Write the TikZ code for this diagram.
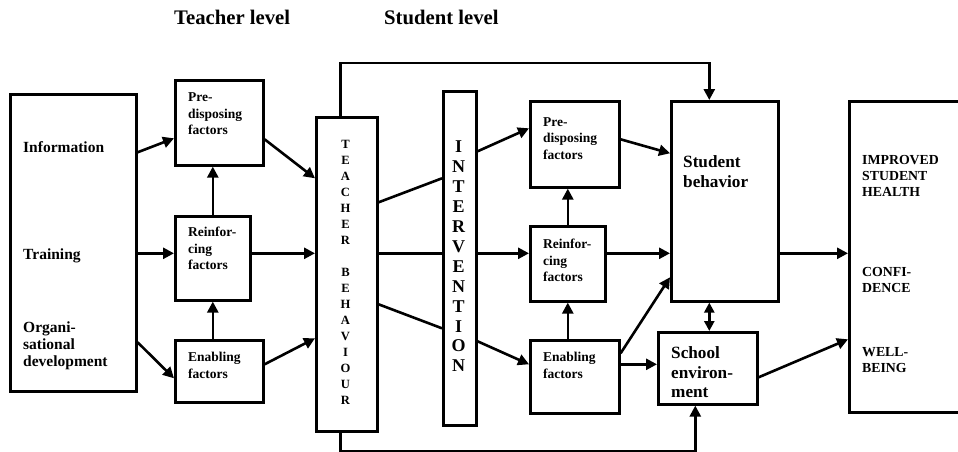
\documentclass[tikz,border=0pt]{standalone}
\usepackage{fontspec}
\setmainfont{Liberation Serif}
\usetikzlibrary{arrows.meta}
\begin{document}
\begin{tikzpicture}[x=1pt,y=-1pt,
  box/.style={draw,line width=2.6pt,inner sep=0pt,anchor=north west},
  arr/.style={line width=2.6pt,-{Triangle[length=11pt,width=11pt]}},
  darr/.style={line width=2.6pt,{Triangle[length=10pt,width=10pt]}-{Triangle[length=10pt,width=10pt]}},
  ln/.style={line width=2.6pt},
  lbl/.style={anchor=north west,inner sep=0pt,align=left,font=\fontsize{15.5}{17}\selectfont\bfseries},
  sml/.style={anchor=north west,inner sep=0pt,align=left,font=\fontsize{13.5}{16.5}\selectfont\bfseries},
  big/.style={anchor=north west,inner sep=0pt,align=left,font=\fontsize{17.2}{19.3}\selectfont\bfseries},
  res/.style={anchor=north west,inner sep=0pt,align=left,font=\fontsize{13.8}{16}\selectfont\bfseries},
  ttl/.style={anchor=north west,inner sep=0pt,font=\fontsize{20.7}{24}\selectfont\bfseries}
]
\useasboundingbox (0,0) rectangle (958,451);
\clip (0,0) rectangle (958,451);

% titles
\node[ttl] (t1) at (174,9.7) {Teacher level};
\node[ttl] (t2) at (384,9.7) {Student level};

% boxes
\node[box,minimum width=126,minimum height=297] (L) at (9,93) {};
\node[box,minimum width=88,minimum height=85] (TPre) at (174,79) {};
\node[box,minimum width=75,minimum height=84] (TRe) at (174,215) {};
\node[box,minimum width=88,minimum height=62] (TEn) at (174,339) {};
\node[box,minimum width=61,minimum height=314] (TB) at (315,116) {};
\node[box,minimum width=33,minimum height=334] (IV) at (442,90) {};
\node[box,minimum width=89,minimum height=86] (SPre) at (529,100) {};
\node[box,minimum width=75,minimum height=75] (SRe) at (529,225) {};
\node[box,minimum width=89,minimum height=73] (SEn) at (529,339) {};
\node[box,minimum width=107,minimum height=200] (SB) at (670,100) {};
\node[box,minimum width=99,minimum height=72] (SE) at (657,331) {};
\node[box,minimum width=130,minimum height=311] (R) at (848,100) {};

% texts
\node[lbl] (info) at (23,141.4) {Information};
\node[lbl] (train) at (23,248.4) {Training};
\node[lbl] (org) at (23,321.4) {Organi-\\sational\\development};
\node[sml] (tpret) at (188,92.6) {Pre-\\disposing\\factors};
\node[sml] (tret) at (188,227) {Reinfor-\\cing\\factors};
\node[sml] (tent) at (188,352) {Enabling\\factors};
\node[sml] (spret) at (543,117) {Pre-\\disposing\\factors};
\node[sml] (sret) at (543,239) {Reinfor-\\cing\\factors};
\node[sml] (sent) at (543,352) {Enabling\\factors};
\node[big] (sbt) at (683,155.8) {Student\\behavior};
\node[big] (set) at (671,346.8) {School\\environ-\\ment};
\node[res] (r1) at (862,155) {IMPROVED\\STUDENT\\HEALTH};
\node[res] (r2) at (862,267) {CONFI-\\DENCE};
\node[res] (r3) at (862,347) {WELL-\\BEING};
\node[inner sep=0pt,align=center,font=\fontsize{12.6}{16}\selectfont\bfseries] (tbt) at (345.5,272.5)
  {T\\E\\A\\C\\H\\E\\R\\[16pt]B\\E\\H\\A\\V\\I\\O\\U\\R};
\node[inner sep=0pt,align=center,font=\fontsize{18}{19.9}\selectfont\bfseries] (ivt) at (458.5,256.5)
  {I\\N\\T\\E\\R\\V\\E\\N\\T\\I\\O\\N};

% teacher level arrows
\draw[arr] ([yshift=90.5pt]L.east) -- ([yshift=-15.5pt]TPre.west);
\draw[arr] ([yshift=-10.5pt]L.east) -- ([yshift=5pt]TRe.west);
\draw[arr] ([yshift=-99.5pt]L.east) -- ([yshift=-7pt]TEn.west);
\draw[arr] (TRe.north) -- (TRe.north |- TPre.south);
\draw[arr] (TRe.south |- TEn.north) -- (TRe.south);
\draw[arr] ([yshift=-16.5pt]TPre.east) -- ([yshift=96pt]TB.west);
\draw[arr] ([yshift=5pt]TRe.east) -- ([yshift=21pt]TB.west);
\draw[arr] ([yshift=7pt]TEn.east) -- ([yshift=-64pt]TB.west);

% teacher behaviour to intervention
\draw[ln] ([yshift=72pt]TB.east) -- ([yshift=80pt]IV.west);
\draw[ln] ([yshift=21pt]TB.east) -- ([yshift=5pt]IV.west);
\draw[ln] ([yshift=-30pt]TB.east) -- ([yshift=-70pt]IV.west);

% intervention to student factors
\draw[arr] ([yshift=107pt]IV.east) -- ([yshift=16pt]SPre.west);
\draw[arr] ([yshift=5pt]IV.east) -- ([yshift=10.5pt]SRe.west);
\draw[arr] ([yshift=-83pt]IV.east) -- ([yshift=12.5pt]SEn.west);
\draw[arr] (SRe.north) -- (SRe.north |- SPre.south);
\draw[arr] (SRe.south |- SEn.north) -- (SRe.south);

% student factors to behaviour / environment
\draw[arr] ([yshift=5pt]SPre.east) -- ([yshift=48pt]SB.west);
\draw[arr] ([yshift=10.5pt]SRe.east) -- ([yshift=-52pt]SB.west);
\draw[arr] ([yshift=23.5pt]SEn.east) -- ([yshift=-76pt]SB.west);
\draw[arr] ([yshift=12.5pt]SEn.east) -- ([yshift=4pt]SE.west);
\draw[darr] ([xshift=-15.5pt]SB.south) -- ([xshift=-15.5pt]SB.south |- SE.north);

% outcomes
\draw[arr] ([yshift=-52pt]SB.east) -- ([yshift=3.5pt]R.west);
\draw[arr] ([yshift=-9pt]SE.east) -- ([yshift=-82.5pt]R.west);

% loops
\draw[arr] ([xshift=-6.5pt]TB.north) -- ++(0,-53) -| ([xshift=-15.5pt]SB.north);
\draw[arr] ([xshift=-6.5pt]TB.south) -- ++(0,19) -| ([xshift=-12.5pt]SE.south);
\end{tikzpicture}
\end{document}
